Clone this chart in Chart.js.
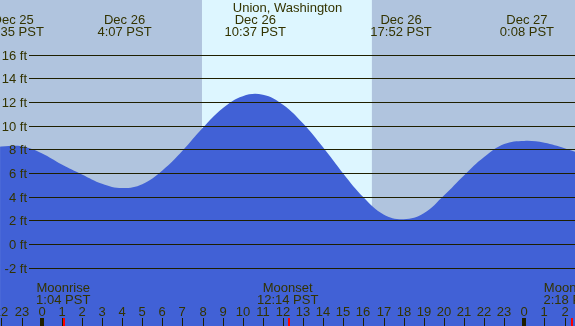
<!DOCTYPE html>
<html>
<head>
<meta charset="utf-8">
<script src="https://cdn.jsdelivr.net/npm/chart.js@4"></script>
<style>
	body { margin: 0; background: #b0c4de; }
	canvas { display: block; }
</style>
</head>
<body>
<canvas id="plima" width="575" height="326"></canvas>
<script>
let naslov = "Union, Washington";

// ure od polnoci 26. dec, visina v ft
let tideHours = [-2.07, -2, -1, 0, 1, 2, 3, 4, 5, 6, 7, 8, 9, 10, 11, 12, 13, 14, 15, 16, 17, 18, 19, 20, 21, 22, 23, 24, 25, 26, 26.52];
let tideFeet = [8.23, 8.25, 8.27, 7.68, 6.72, 5.88, 5.1, 4.73, 5.06, 6.22, 7.88, 9.8, 11.48, 12.5, 12.62, 11.77, 10.18, 8.15, 5.95, 3.95, 2.5, 2.1, 2.6, 4.1, 5.8, 7.35, 8.45, 8.72, 8.56, 8.1, 7.8];

let eventHours = [-1.42, 4.12, 10.62, 17.87, 24.13];
let eventDates = ["Dec 25", "Dec 26", "Dec 26", "Dec 26", "Dec 27"];
let eventTimes = ["22:35 PST", "4:07 PST", "10:37 PST", "17:52 PST", "0:08 PST"];

let moonHours = [1.07, 12.23, 26.3];
let moonNames = ["Moonrise", "Moonset", "Moonrise"];
let moonTimes = ["1:04 PST", "12:14 PST", "2:18 PST"];

let sunrise = 7.97;
let sunset = 16.42;

let yTicks = [-2, 0, 2, 4, 6, 8, 10, 12, 14, 16];

let tocke = tideHours.map((h, i) => ({ x: h, y: tideFeet[i] }));

let barvaTeksta = "#333300";
let barvaMreze = "#1f1f00";
let pisava = "13px 'Liberation Sans', Arial, sans-serif";

let ozadje = {
	id: "ozadje",
	beforeDatasetsDraw(chart) {
		let ctx = chart.ctx;
		let sx = chart.scales.x;
		ctx.save();
		ctx.fillStyle = "#b0c4de";
		ctx.fillRect(0, 0, chart.width, chart.height);
		let x1 = sx.getPixelForValue(sunrise);
		let x2 = sx.getPixelForValue(sunset);
		ctx.fillStyle = "#ddf6ff";
		ctx.fillRect(x1, 0, x2 - x1, chart.height);
		ctx.restore();
	}
};

let oznake = {
	id: "oznake",
	afterDatasetsDraw(chart) {
		let ctx = chart.ctx;
		let sx = chart.scales.x;
		let sy = chart.scales.y;
		let w = chart.width;
		ctx.save();
		ctx.font = pisava;
		ctx.fillStyle = barvaTeksta;
		ctx.strokeStyle = barvaMreze;

		// mreza in oznake visine
		ctx.lineWidth = 1;
		ctx.textAlign = "right";
		ctx.textBaseline = "middle";
		for (let v of yTicks) {
			let y = Math.round(sy.getPixelForValue(v)) + 0.5;
			ctx.beginPath();
			ctx.moveTo(29, y);
			ctx.lineTo(w, y);
			ctx.stroke();
			ctx.fillText(v + " ft", 27, y + 1);
		}

		// naslov in plima/oseka
		ctx.textAlign = "center";
		ctx.textBaseline = "alphabetic";
		ctx.fillText(naslov, w / 2, 12);
		for (let i = 0; i < eventHours.length; i++) {
			let x = sx.getPixelForValue(eventHours[i]);
			ctx.fillText(eventDates[i], x, 24);
			ctx.fillText(eventTimes[i], x, 36);
		}

		// ure spodaj
		for (let h = Math.ceil(sx.min); h <= Math.floor(sx.max); h++) {
			let x = Math.round(sx.getPixelForValue(h));
			let ura = ((h % 24) + 24) % 24;
			ctx.fillStyle = barvaTeksta;
			ctx.fillText(String(ura), x, 316);
			ctx.fillStyle = barvaMreze;
			if (ura == 0) {
				ctx.fillRect(x - 2, 318, 4, 8);
			}
			else {
				ctx.fillRect(x, 318, 1, 8);
			}
		}

		// luna
		for (let i = 0; i < moonHours.length; i++) {
			let x = sx.getPixelForValue(moonHours[i]);
			ctx.fillStyle = barvaTeksta;
			ctx.fillText(moonNames[i], x, 292);
			ctx.fillText(moonTimes[i], x, 304);
			ctx.fillStyle = "#ff0000";
			ctx.fillRect(Math.round(x), 318, 2, 8);
		}
		ctx.restore();
	}
};

let graf_plime = new Chart("plima", {
	type: "line",
	data: {
		datasets: [{
			data: tocke,
			fill: "start",
			backgroundColor: "#4161d6",
			borderWidth: 0,
			pointRadius: 0,
			tension: 0.4
		}]
	},
	options: {
		responsive: false,
		animation: false,
		layout: { padding: 0 },
		plugins: {
			legend: { display: false },
			tooltip: { enabled: false }
		},
		scales: {
			x: { type: "linear", min: -2.074, max: 26.52, display: false },
			y: { min: -6.93, max: 20.63, display: false }
		}
	},
	plugins: [ozadje, oznake]
});
</script>
</body>
</html>
